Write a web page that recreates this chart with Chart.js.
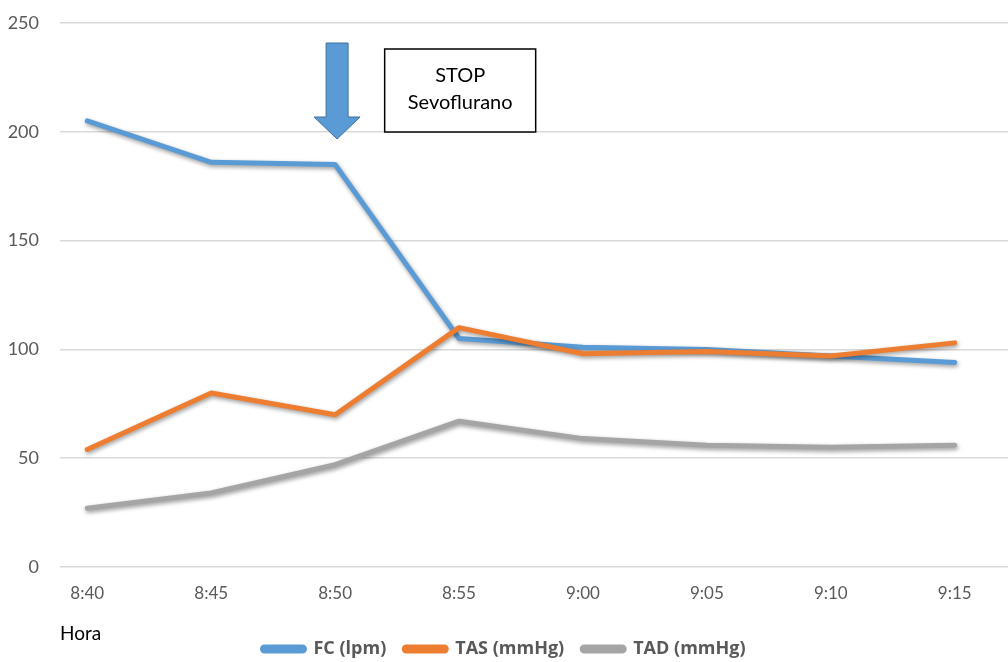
<!DOCTYPE html>
<html>
<head>
<meta charset="utf-8">
<script src="https://cdn.jsdelivr.net/npm/chart.js@4.4.1/dist/chart.umd.min.js"></script>
<style>
	html, body { margin: 0; padding: 0; background: #fff; }
	#wrap { width: 1008px; height: 662px; }
</style>
</head>
<body>
<div id="wrap"><canvas id="chart"></canvas></div>
<script>
const horas = [ '8:40', '8:45', '8:50', '8:55', '9:00', '9:05', '9:10', '9:15' ];
const fcLpm = [ 205, 186, 185, 105, 101, 100, 97, 94 ];
const tasMmHg = [ 54, 80, 70, 110, 98, 99, 97, 103 ];
const tadMmHg = [ 27, 34, 47, 67, 59, 56, 55, 56 ];
const yTicks = [ 0, 50, 100, 150, 200, 250 ];

const FONT = "Lato, 'Open Sans', sans-serif";
const LEGEND_FONT = "'Open Sans', Lato, sans-serif";

const toPoints = ( values ) => values.map( ( v, i ) => ( { x: i, y: v } ) );

// soft drop shadow under the lines, like the office chart
const lineShadow = {
	id: 'lineShadow',
	beforeDatasetDraw( chart ) {
		const ctx = chart.ctx;
		ctx.save();
		ctx.shadowColor = 'rgba(0,0,0,0.4)';
		ctx.shadowBlur = 4;
		ctx.shadowOffsetX = 1;
		ctx.shadowOffsetY = 2;
	},
	afterDatasetDraw( chart ) {
		chart.ctx.restore();
	},
};

// legend takes little room in the layout and sits right under "Hora"
const legendNudge = {
	id: 'legendNudge',
	beforeLayout( chart ) {
		const lg = chart.legend;
		if ( lg && ! lg._nudged ) {
			const fit = lg.fit;
			lg.fit = function () {
				fit.apply( this, arguments );
				this.height = 16;
			};
			lg._nudged = true;
		}
	},
	afterLayout( chart ) {
		const lg = chart.legend;
		if ( ! lg ) {
			return;
		}
		lg.top = 622;
		lg.bottom = chart.height;
		lg.height = lg.bottom - lg.top;
	},
};

// arrow + "STOP Sevoflurano" box
const stopNote = {
	id: 'stopNote',
	afterDraw( chart ) {
		const ctx = chart.ctx;
		const xs = chart.scales.x;
		const cx = xs.getPixelForValue( 2 ) + 2;
		const top = 43;
		const headTop = 117;
		const tip = 139;

		ctx.save();
		ctx.beginPath();
		ctx.moveTo( cx - 11, top );
		ctx.lineTo( cx + 11, top );
		ctx.lineTo( cx + 11, headTop );
		ctx.lineTo( cx + 23, headTop );
		ctx.lineTo( cx, tip );
		ctx.lineTo( cx - 23, headTop );
		ctx.lineTo( cx - 11, headTop );
		ctx.closePath();
		ctx.fillStyle = '#5b9bd5';
		ctx.fill();
		ctx.strokeStyle = '#41719c';
		ctx.lineWidth = 1;
		ctx.stroke();

		const bx = xs.getPixelForValue( 2.4 );
		const bw = 151;
		ctx.fillStyle = '#fff';
		ctx.fillRect( bx, 49, bw, 83 );
		ctx.strokeStyle = '#000';
		ctx.lineWidth = 1.5;
		ctx.strokeRect( bx, 49, bw, 83 );

		ctx.fillStyle = '#000';
		ctx.font = '20px ' + FONT;
		ctx.textAlign = 'center';
		ctx.textBaseline = 'middle';
		ctx.fillText( 'STOP', bx + bw / 2, 76 );
		ctx.fillText( 'Sevoflurano', bx + bw / 2, 103 );
		ctx.restore();
	},
};

const mkSet = ( label, values, color, order ) => ( {
	label,
	data: toPoints( values ),
	borderColor: color,
	backgroundColor: color,
	borderWidth: 5,
	borderCapStyle: 'round',
	borderJoinStyle: 'round',
	pointRadius: 0,
	tension: 0,
	order,
} );

new Chart( document.getElementById( 'chart' ), {
	type: 'line',
	data: {
		datasets: [
			mkSet( 'FC (lpm)', fcLpm, '#5b9bd5', 2 ),
			mkSet( 'TAS (mmHg)', tasMmHg, '#ed7d31', 1 ),
			mkSet( 'TAD (mmHg)', tadMmHg, '#a5a5a5', 3 ),
		],
	},
	options: {
		responsive: true,
		maintainAspectRatio: false,
		animation: false,
		layout: { padding: { top: 23, right: 0, bottom: 0, left: 0 } },
		plugins: {
			tooltip: { enabled: false },
			legend: {
				position: 'bottom',
				labels: {
					color: '#595959',
					font: { family: LEGEND_FONT, size: 18, weight: 'bold' },
					boxWidth: 42,
					boxHeight: 4,
					useBorderRadius: true,
					borderRadius: 2,
					padding: 18,
					sort: ( a, b ) => a.datasetIndex - b.datasetIndex,
				},
			},
		},
		scales: {
			x: {
				type: 'linear',
				min: -0.22,
				max: 7.43,
				grid: { display: false },
				border: { display: false },
				afterBuildTicks: ( scale ) => {
					scale.ticks = horas.map( ( h, i ) => ( { value: i } ) );
				},
				afterFit: ( scale ) => {
					scale.height = 79;
				},
				ticks: {
					color: '#595959',
					font: { family: FONT, size: 17 },
					padding: 8,
					maxRotation: 0,
					autoSkip: false,
					callback: ( v ) => horas[ v ] ?? '',
				},
				title: {
					display: true,
					text: 'Hora',
					align: 'start',
					color: '#000',
					font: { family: FONT, size: 19 },
					padding: { top: 8, bottom: 1 },
				},
			},
			y: {
				min: 0,
				max: 250,
				afterBuildTicks: ( scale ) => {
					scale.ticks = yTicks.map( ( v ) => ( { value: v } ) );
				},
				afterFit: ( scale ) => {
					scale.width = 60;
					scale.paddingTop = 0;
					scale.paddingBottom = 0;
				},
				grid: { color: '#d9d9d9', lineWidth: 1.5, drawTicks: false },
				border: { display: false },
				ticks: {
					color: '#595959',
					font: { family: FONT, size: 18 },
					padding: 21,
				},
			},
		},
	},
	plugins: [ lineShadow, legendNudge, stopNote ],
} );
</script>
</body>
</html>
